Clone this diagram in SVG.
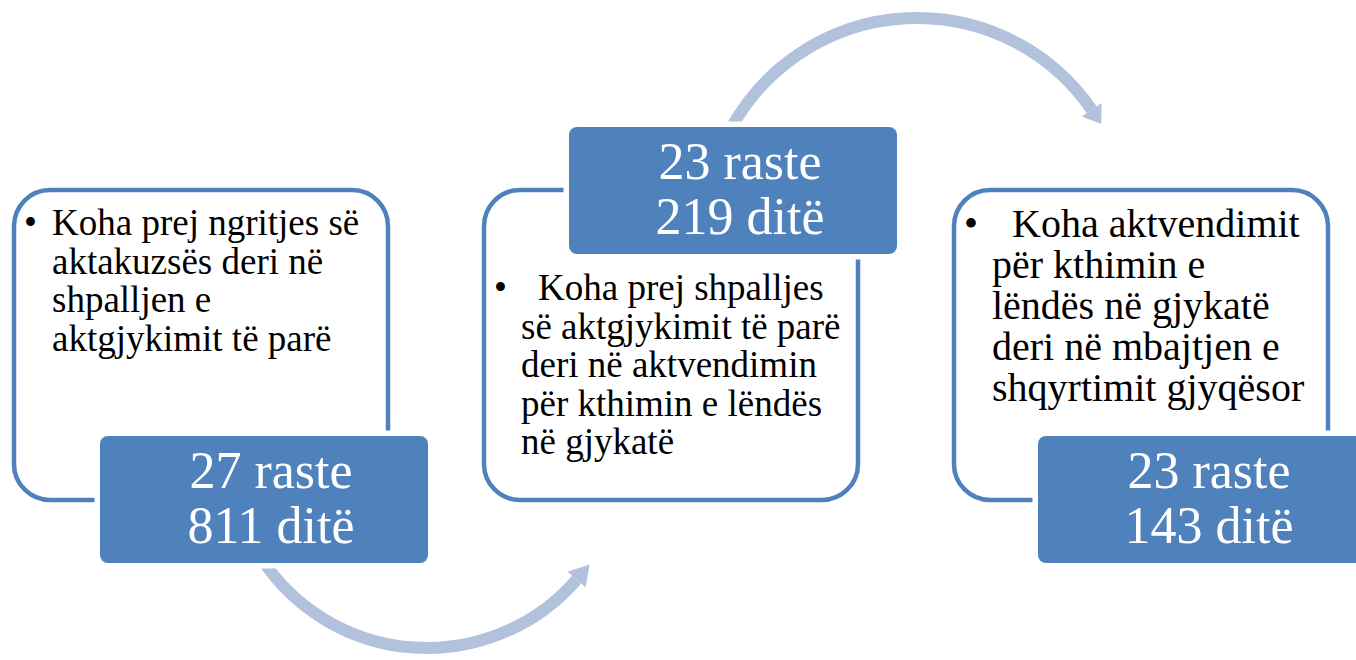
<svg xmlns="http://www.w3.org/2000/svg" width="1356" height="660" viewBox="0 0 1356 660">
<style>
.frame{fill:#ffffff;stroke:#4f81bd;stroke-width:4.5}
.tag{fill:#4f81bd;stroke:#ffffff;stroke-width:11;paint-order:stroke}
.serif{font-family:'Liberation Serif',Tinos,'DejaVu Serif',serif}
.tagtxt{font-size:52px;fill:#ffffff;text-anchor:middle}
.body{font-size:37px;fill:#000000}
.body3{font-size:40px;fill:#000000}
.arc{fill:none;stroke:#b2c1dc;stroke-width:12}
.head{fill:#b2c1dc}
</style>
<rect width="1356" height="660" fill="#ffffff"/>
<g id="connectors">
<path class="arc" d="M262.4 560 A198 198 0 0 0 576.6 579.7"/>
<polygon class="head" points="567.5,571.8 585.7,587.6 589.5,564.5"/>
<path class="arc" d="M731.2 128 A212 212 0 0 1 1091.7 109.8"/>
<polygon class="head" points="1081.8,116.6 1101.6,103 1101.3,124"/>
</g>
<g id="step1" class="serif">
<rect class="frame" x="14" y="190" width="374" height="310" rx="36"/>
<text class="body" x="24" y="235">•</text>
<text class="body" x="52" y="235">Koha prej ngritjes së</text>
<text class="body" x="52" y="273.5">aktakuzsës deri në</text>
<text class="body" x="52" y="312">shpalljen e</text>
<text class="body" x="52" y="350.5">aktgjykimit të parë</text>
</g>
<g id="tag1" class="serif">
<rect class="tag" x="100" y="436" width="328" height="127" rx="8"/>
<text class="tagtxt" x="271" y="488">27 raste</text>
<text class="tagtxt" x="271" y="543">811 ditë</text>
</g>
<g id="step2" class="serif">
<rect class="frame" x="484" y="190" width="374" height="310" rx="36"/>
<text class="body" x="494" y="300">•</text>
<text class="body" x="538" y="300">Koha prej shpalljes</text>
<text class="body" x="521" y="338.5">së aktgjykimit të parë</text>
<text class="body" x="521" y="377">deri në aktvendimin</text>
<text class="body" x="521" y="415.5">për kthimin e lëndës</text>
<text class="body" x="521" y="454">në gjykatë</text>
</g>
<g id="tag2" class="serif">
<rect class="tag" x="569" y="127" width="328" height="127" rx="8"/>
<text class="tagtxt" x="740" y="179">23 raste</text>
<text class="tagtxt" x="740" y="234">219 ditë</text>
</g>
<g id="step3" class="serif">
<rect class="frame" x="954" y="190" width="374" height="310" rx="36"/>
<text class="body3" x="964" y="237">•</text>
<text class="body3" x="1012" y="237">Koha aktvendimit</text>
<text class="body3" x="992" y="278">për kthimin e</text>
<text class="body3" x="992" y="319">lëndës në gjykatë</text>
<text class="body3" x="992" y="360">deri në mbajtjen e</text>
<text class="body3" x="992" y="401">shqyrtimit gjyqësor</text>
</g>
<g id="tag3" class="serif">
<rect class="tag" x="1038" y="436" width="328" height="127" rx="8"/>
<text class="tagtxt" x="1209" y="488">23 raste</text>
<text class="tagtxt" x="1209" y="543">143 ditë</text>
</g>
</svg>
